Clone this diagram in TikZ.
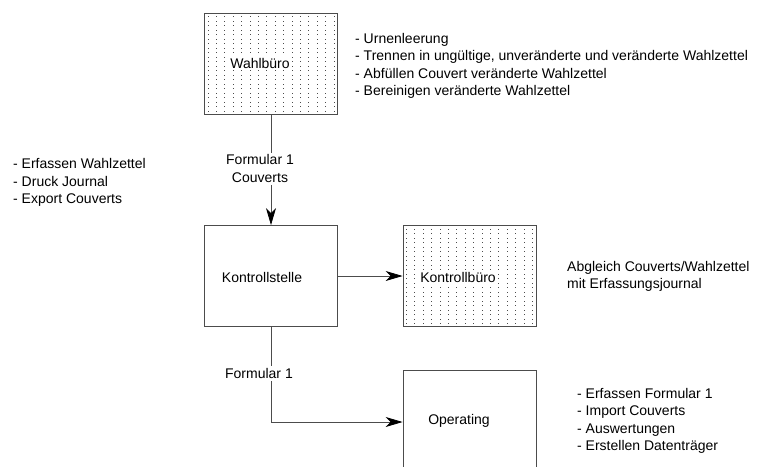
\documentclass[tikz,border=0pt]{standalone}
\usepackage{fontspec}
\setmainfont{Liberation Sans}
\usetikzlibrary{arrows.meta}

\definecolor{linegray}{gray}{0.3}
\tikzset{
  officebox/.style={draw=linegray,line width=0.8pt,minimum width=133pt,minimum height=101pt,inner sep=0pt},
  dotbox/.style={officebox,path picture={
      \foreach \i in {0,...,15}
        \foreach \j in {0,...,22}
          \fill[black!70] ([xshift=\i*8.4pt+3pt,yshift=-\j*4.5pt-3pt]path picture bounding box.north west) rectangle ++(1pt,-1pt);}},
  boxtext/.style={fill=white,inner sep=2pt},
  flow/.style={draw=linegray,line width=0.8pt,-{Stealth[length=17pt,width=10pt,inset=5pt,color=black]}},
  notes/.style={align=left,inner sep=0pt,anchor=west}
}

\begin{document}
\begin{tikzpicture}[x=1pt,y=-1pt,font=\fontsize{14}{17.5}\selectfont]
  \path[use as bounding box,clip] (0,0) rectangle (757,466);

  \node[dotbox] (wahl) at (271,63.5) {};
  \node[boxtext] (wahltext) at (260,63) {Wahlbüro};
  \node[officebox] (kstelle) at (271,276) {};
  \node (ksttext) at (262,277) {Kontrollstelle};
  \node[dotbox] (kbuero) at (469.5,276) {};
  \node[boxtext] (kbuerotext) at (458,277) {Kontrollbüro};
  \node[officebox,minimum height=104pt] (operating) at (469.5,422) {};
  \node (optext) at (459,421) {Operating};

  \draw[flow] (wahl) -- (kstelle)
    node[boxtext,align=center,pos=0.49,xshift=-11pt] (lab1) {Formular 1\\Couverts};
  \draw[flow] (kstelle) -- (kbuero);
  \draw[flow] (kstelle) |- (operating)
    node[boxtext,pos=0.245,xshift=-12pt] (lab2) {Formular 1};

  \node[notes] (wahlnotes) at (355,66) {- Urnenleerung\\- Trennen in ungültige, unveränderte und veränderte Wahlzettel\\- Abfüllen Couvert veränderte Wahlzettel\\- Bereinigen veränderte Wahlzettel};
  \node[notes] (kstnotes) at (13,182.5) {- Erfassen Wahlzettel\\- Druck Journal\\- Export Couverts};
  \node[notes] (kbnotes) at (567,276.5) {Abgleich Couverts/Wahlzettel\\mit Erfassungsjournal};
  \node[notes] (opnotes) at (577,421) {- Erfassen Formular 1\\- Import Couverts\\- Auswertungen\\- Erstellen Datenträger};
\end{tikzpicture}
\end{document}
